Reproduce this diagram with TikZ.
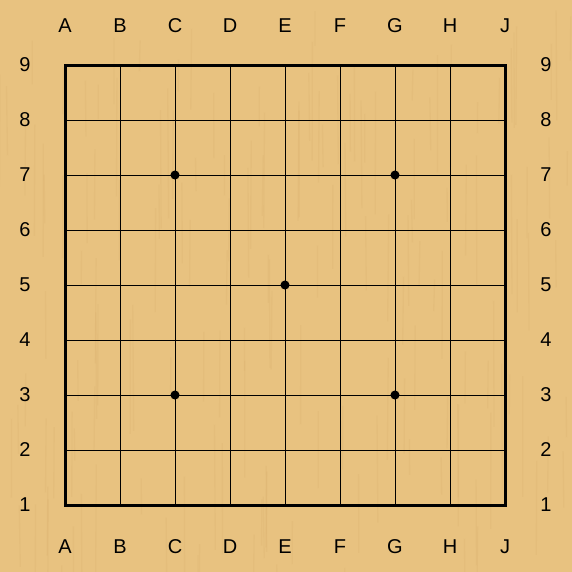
\documentclass[tikz,border=0pt]{standalone}
\usepackage{fontspec}
\setmainfont{Liberation Sans}
\definecolor{wood}{RGB}{232,194,128}
\definecolor{grain}{RGB}{214,170,104}
\begin{document}
\begin{tikzpicture}[x=0.75pt, y=-0.75pt, every node/.style={font=\fontsize{15}{17}\selectfont}]
	\fill[wood] (0,0) rectangle (572,572);
	\useasboundingbox (0,0) rectangle (572,572);
	% wood grain
	\pgfmathsetseed{7}
	\foreach \k in {1,...,160} {
		\pgfmathsetmacro{\gx}{572*rnd}
		\pgfmathsetmacro{\gy}{572*rnd}
		\pgfmathsetmacro{\gl}{30+100*rnd}
		\draw[grain, opacity=0.18, line width=1pt] (\gx,\gy) -- ++(2*rnd-1,\gl);
	}
	% grid lines
	\foreach \i in {1,...,7} {
		\draw[line width=0.75pt] (65+55*\i,65) -- (65+55*\i,505);
		\draw[line width=0.75pt] (65,65+55*\i) -- (505,65+55*\i);
	}
	\coordinate (nw) at (65,65);
	\coordinate (se) at (505,505);
	\draw[line width=2.25pt] (nw) rectangle (se);
	% star points
	\foreach \px/\py in {175/175, 395/175, 285/285, 175/395, 395/395}
		\fill (\px,\py) circle (3.4pt);
	% coordinates
	\foreach \c [count=\i from 0] in {A,B,C,D,E,F,G,H,J} {
		\node (top\c) at (65+55*\i,26) {\c};
		\node (bot\c) at (65+55*\i,547) {\c};
	}
	\foreach \r [count=\i from 0] in {9,8,...,1} {
		\node (left\r) at (25,65+55*\i) {\r};
		\node (right\r) at (546,65+55*\i) {\r};
	}
\end{tikzpicture}
\end{document}
